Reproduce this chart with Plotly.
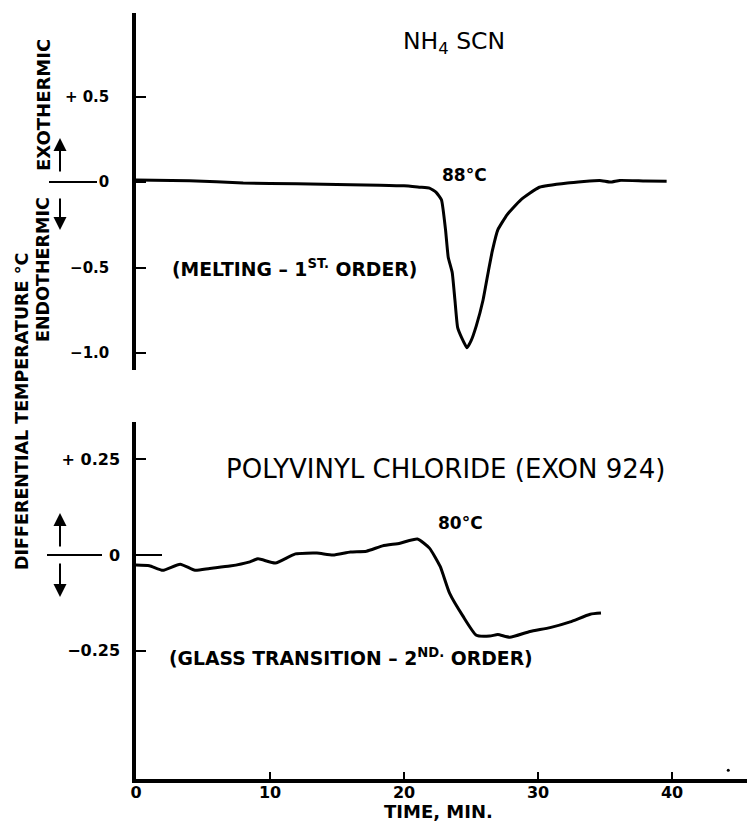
import plotly.graph_objects as go

# ---------------- data ----------------
nh4_time = [0, 4, 8, 12, 16, 18.2, 20, 21.2, 21.9, 22.4, 22.8, 23.1, 23.3, 23.6, 23.8,
            24.0, 24.3, 24.7, 25.0, 25.4, 25.9, 26.3, 26.6, 27.0, 27.7, 28.7, 30.1,
            32.2, 34.6, 35.4, 36.1, 38.0, 39.6]
nh4_dT = [0.012, 0.008, -0.005, -0.01, -0.015, -0.018, -0.022, -0.03, -0.035, -0.06,
          -0.105, -0.28, -0.44, -0.53, -0.69, -0.85, -0.91, -0.97, -0.93, -0.84, -0.69,
          -0.52, -0.40, -0.28, -0.19, -0.105, -0.03, -0.005, 0.01, 0.0, 0.01, 0.006, 0.005]

pvc_time = [0, 1.0, 2.0, 3.3, 4.4, 5.5, 7.0, 8.5, 9.1, 10.4, 11.9, 13.5, 14.7, 16.0,
            17.2, 18.4, 19.7, 21.0, 21.9, 22.7, 23.4, 24.4, 25.4, 26.4, 27.0, 27.9,
            29.4, 30.9, 32.4, 33.9, 34.7]
pvc_dT = [-0.026, -0.028, -0.04, -0.024, -0.04, -0.035, -0.029, -0.018, -0.01, -0.021,
          0.003, 0.005, 0.0, 0.008, 0.01, 0.024, 0.031, 0.042, 0.018, -0.03, -0.1, -0.16,
          -0.21, -0.212, -0.208, -0.215, -0.2, -0.19, -0.175, -0.155, -0.152]

speck_time = [44.2]
speck_dT = [-0.563]

x_ticks = [0, 10, 20, 30, 40]
x_ticktext = ["0", "10", "20", "30", "40"]
top_ticks = [0.5, 0, -0.5, -1.0]
top_ticktext = ["+ 0.5", "0", "\u22120.5", "\u22121.0"]
bot_ticks = [0.25, 0, -0.25]
bot_ticktext = ["+ 0.25", "0", "\u22120.25"]

# ---------------- layout helpers ----------------
W, H = 747, 822
L = 136
FONT = "DejaVu Sans"


def px(xp):
    return (xp - L) / (W - L)


def py(yp):
    return 1 - yp / H


fig = go.Figure()
fig.add_trace(go.Scatter(x=nh4_time, y=nh4_dT, xaxis="x2", yaxis="y2", mode="lines",
                         line=dict(color="black", width=3, shape="spline", smoothing=0.4),
                         showlegend=False, hoverinfo="skip"))
fig.add_trace(go.Scatter(x=pvc_time, y=pvc_dT, xaxis="x", yaxis="y", mode="lines",
                         line=dict(color="black", width=3, shape="spline", smoothing=0.5),
                         showlegend=False, hoverinfo="skip"))
fig.add_trace(go.Scatter(x=speck_time, y=speck_dT, xaxis="x", yaxis="y", mode="markers",
                         marker=dict(color="black", size=3), showlegend=False,
                         hoverinfo="skip", cliponaxis=False))

xr = [0, (W - L) / 13.4]
common_y = dict(showline=True, linewidth=3.5, linecolor="black", ticks="inside",
                ticklen=10, tickwidth=2, tickcolor="black", showgrid=False,
                zeroline=False, tickmode="array")

fig.update_layout(
    width=W, height=H,
    margin=dict(l=L, r=0, t=0, b=0),
    paper_bgcolor="white", plot_bgcolor="white",
    xaxis=dict(domain=[0, 1], range=xr, anchor="y", showline=True, linewidth=3.5,
               linecolor="black", ticks="inside", ticklen=7, tickwidth=2,
               tickcolor="black", tickmode="array", tickvals=x_ticks,
               ticktext=x_ticktext, showgrid=False, zeroline=False,
               ticklabelstandoff=-4,
               tickfont=dict(family=FONT, size=16, color="black", weight="bold")),
    xaxis2=dict(domain=[0, 1], range=xr, anchor="y2", visible=False),
    yaxis=dict(domain=[py(779), py(422)], range=[-0.586, 0.348], anchor="x",
               tickvals=bot_ticks, ticktext=bot_ticktext, ticklabelstandoff=9,
               tickfont=dict(family=FONT, size=16, color="black", weight="bold"),
               **common_y),
    yaxis2=dict(domain=[py(370), py(13)], range=[-1.10, 0.99], anchor="x2",
                tickvals=top_ticks, ticktext=top_ticktext, ticklabelstandoff=20,
                tickfont=dict(family=FONT, size=15, color="black", weight="bold"),
                **common_y),
)

bold = dict(family=FONT, color="black", weight="bold")
reg = dict(family=FONT, color="black")
C = dict(xanchor="center", yanchor="middle", showarrow=False)
ann = []
# panel texts
ann.append(dict(text="NH<sub>4</sub> SCN", x=23.7, y=0.82, xref="x2", yref="y2",
                font=dict(size=23.5, **reg), **C))
ann.append(dict(text="88\u00b0C", x=24.5, y=0.04, xref="x2", yref="y2",
                font=dict(size=17, **bold), **C))
ann.append(dict(text="(MELTING \u2013 1<sup>ST.</sup> ORDER)", x=2.5, y=-0.50,
                xref="x2", yref="y2", xanchor="left", yanchor="middle", showarrow=False,
                font=dict(size=18.8, **bold)))
ann.append(dict(text="POLYVINYL CHLORIDE (EXON 924)", x=6.6, y=0.225, xref="x",
                yref="y", xanchor="left", yanchor="middle", showarrow=False,
                font=dict(size=26, **reg)))
ann.append(dict(text="80\u00b0C", x=24.2, y=0.084, xref="x", yref="y",
                font=dict(size=17, **bold), **C))
ann.append(dict(text="(GLASS TRANSITION \u2013 2<sup>ND.</sup> ORDER)", x=2.3, y=-0.267,
                xref="x", yref="y", xanchor="left", yanchor="middle", showarrow=False,
                font=dict(size=18.8, **bold)))
ann.append(dict(text="TIME, MIN.", x=px(438), y=py(811), xref="paper", yref="paper",
                font=dict(size=18, **bold), **C))
# rotated axis texts
ann.append(dict(text="EXOTHERMIC", x=px(43), y=py(105), xref="paper", yref="paper",
                textangle=-90, font=dict(size=18, **bold), **C))
ann.append(dict(text="ENDOTHERMIC", x=px(43), y=py(269), xref="paper", yref="paper",
                textangle=-90, font=dict(size=17.5, **bold), **C))
ann.append(dict(text="DIFFERENTIAL TEMPERATURE \u00b0C", x=px(22), y=py(412),
                xref="paper", yref="paper", textangle=-90,
                font=dict(size=17.5, **bold), **C))
# arrows
for tip, ay in [(138, 35), (230, -33), (513, 35), (597, -35)]:
    ann.append(dict(text="", x=px(60), y=py(tip), xref="paper", yref="paper",
                    showarrow=True, ax=0, ay=ay, arrowhead=2, arrowsize=1.3,
                    arrowwidth=2, arrowcolor="black"))
fig.update_layout(annotations=ann)

shapes = []
for x0, x1, yy in [(49, 97, 182), (47, 102, 555), (136, 162, 555)]:
    shapes.append(dict(type="line", xref="paper", yref="paper", x0=px(x0), x1=px(x1),
                       y0=py(yy), y1=py(yy), line=dict(color="black", width=2)))
fig.update_layout(shapes=shapes)

fig.write_html("out.html")
